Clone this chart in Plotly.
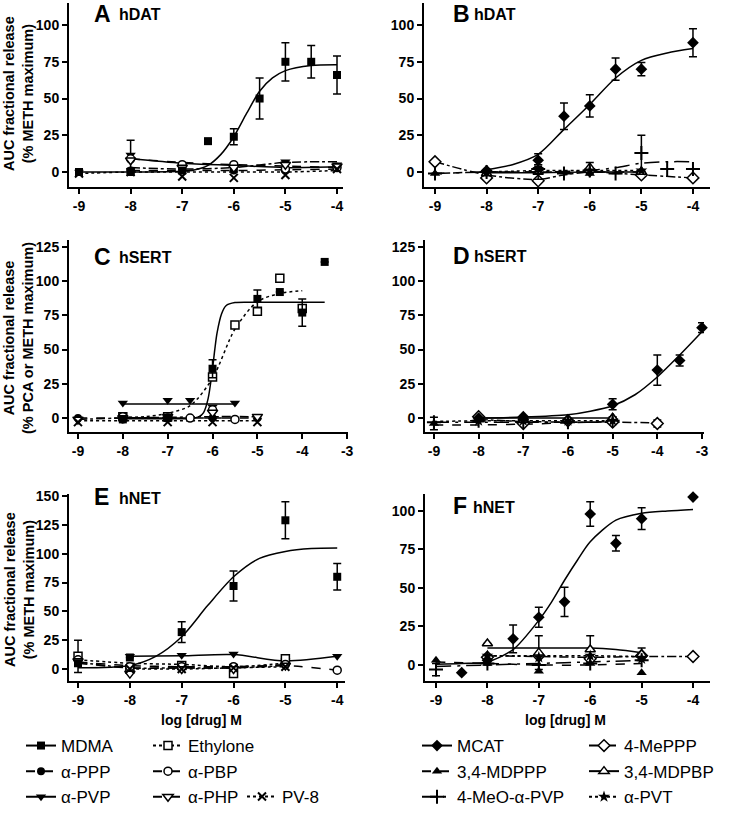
import plotly.graph_objects as go

# ---------------- tick labels ----------------
X_TICKS_6 = [-9, -8, -7, -6, -5, -4]
X_TICKS_7 = [-9, -8, -7, -6, -5, -4, -3]
Y_TICKS_AB = [0, 25, 50, 75, 100]
Y_TICKS_CD = [0, 25, 50, 75, 100, 125]
Y_TICKS_E = [0, 25, 50, 75, 100, 125, 150]
Y_TICKS_F = [0, 25, 50, 75, 100]

# ---------------- data: points (x, y, err) and curve (lx, ly) ----------------
PANEL_A = {
    "MDMA": dict(x=[-9, -8, -7, -6.5, -6, -5.5, -5, -4.5, -4], y=[0, 0, 1, 21, 24, 50, 75, 75, 66],
                 err=[0, 1, 1, 0, 5.5, 14, 13, 11, 13],
                 lx=[-9, -8, -7, -6.75, -6.5, -6.25, -6, -5.75, -5.5, -5.25, -5, -4.5, -4],
                 ly=[0, 0, 0.5, 1.5, 4.5, 12, 24, 40, 55, 64, 69, 72.5, 73]),
    "α-PPP": dict(x=[-8, -7, -6, -5, -4], y=[1, 2, 1, 1, 3], err=None,
                  lx=[-8, -7, -6, -5, -4], ly=[1, 1, 1, 1.5, 2]),
    "α-PVP": dict(x=[-8, -7, -6, -5, -4], y=[11.6, 3, 2, 7, 5], err=[10, 0, 0, 0, 0],
                  lx=[-8, -7, -6, -5, -4], ly=[9, 6, 4.5, 3, 3.5]),
    "α-PBP": dict(x=[-8, -7, -6, -5, -4], y=[9, 5, 5, 2, 3], err=None,
                  lx=[-8, -7, -6, -5, -4], ly=[9, 6.5, 5, 4, 3]),
    "α-PHP": dict(x=[-8, -7, -6, -5, -4], y=[8, 3, 3, 5, 4], err=None,
                  lx=[-8, -7, -6, -5, -4], ly=[3, 2, 3, 6.5, 7]),
    "PV-8": dict(x=[-9, -8, -7, -6, -5, -4], y=[-1, 0, -3, -4, -2, 2], err=None,
                 lx=[-9, -8, -7, -6, -5, -4], ly=[-1, 0, 0, 0, 0, 1]),
}
PANEL_B = {
    "MCAT": dict(x=[-8, -7, -6.5, -6, -5.5, -5, -4], y=[1, 8, 38, 45, 70, 70, 88],
                 err=[0, 4.5, 9, 7.5, 7.5, 4.5, 9.5],
                 lx=[-8, -7.5, -7, -6.5, -6, -5.5, -5, -4.5, -4], ly=[1.5, 5, 12, 29, 46, 64, 76, 81, 84]),
    "4-MePPP": dict(x=[-9, -8, -7, -6, -5, -4], y=[7, -4, -6, 1, -2, -4], err=None,
                    lx=[-9, -8, -7, -6.5, -6, -5, -4], ly=[7, -2, -5, -2, 0, -2, -4]),
    "3,4-MDPPP": dict(x=[-9, -8, -7, -6, -5], y=[-1, 0, 1, -1, 1], err=None,
                      lx=[-9, -8, -7, -6, -5], ly=[-1, 0, 0, 0, 0]),
    "3,4-MDPBP": dict(x=[-8, -7, -6, -5], y=[-1, 0, 3, 0], err=[0, 5, 3.5, 0],
                      lx=[-8, -7, -6, -5], ly=[-0.5, -0.5, 0, 0]),
    "4-MeO-α-PVP": dict(x=[-9, -8, -7, -6.5, -6, -5.5, -5, -4.5, -4], y=[-1, 0, 2, -1, 1, -1, 13, 2, 2],
                        err=[0, 0, 3, 0, 0, 0, 12, 0, 0],
                        lx=[-9, -8, -7, -6, -5.5, -5, -4.5, -4], ly=[-1, 0, 0, 1, 3, 6, 7, 7]),
    "α-PVT": dict(x=[-8, -7, -6, -5], y=[0, 2, 1, 1], err=None,
                  lx=[-8, -7, -6, -5], ly=[0, 1, 1, 1]),
}
PANEL_C = {
    "MDMA": dict(x=[-8, -7, -6, -5, -4.5, -4, -3.5], y=[-1, 0, 36, 87, 92, 77, 114],
                 err=[0, 0, 6.5, 6.5, 0, 10, 0],
                 lx=[-8, -7, -6.5, -6.3, -6.2, -6.1, -6.0, -5.95, -5.9, -5.8, -5.7, -5.5, -5, -4, -3.5],
                 ly=[-0.5, -0.5, -0.3, 1, 4, 14, 36, 50, 62, 76, 82, 84.3, 84.5, 84.5, 84.5]),
    "Ethylone": dict(x=[-8, -7, -6, -5.5, -5, -4.5, -4], y=[1, 1, 30, 68, 78, 102, 80],
                     err=[0, 0, 0, 2, 0, 0, 0],
                     lx=[-8, -7.5, -7, -6.5, -6, -5.5, -5, -4.5, -4], ly=[0.5, 1, 3.5, 9, 29, 65, 85, 91, 93]),
    "α-PVP": dict(x=[-8, -7, -6.5, -6, -5.5], y=[11, 13, 13, 8, 11], err=None,
                  lx=[-8, -5.5], ly=[10.3, 10.3]),
    "α-PPP": dict(x=[-9, -8, -7, -6, -5], y=[0, -1, 0, 0, 0], err=None,
                  lx=[-9, -8, -7, -6, -5], ly=[0, 0, 0, 0, 0]),
    "α-PBP": dict(x=[-8, -7, -6.5, -6, -5.5], y=[1, 0, 0, 6, -1], err=None,
                  lx=[-8, -7, -6.5, -6, -5.5], ly=[0.5, 0, 0, 0, 0]),
    "α-PHP": dict(x=[-9, -8, -7, -6, -5], y=[-1, 0, 1, 4, 1], err=None,
                  lx=[-9, -8, -7, -6, -5], ly=[-1, 0, 0.5, 1, 1]),
    "PV-8": dict(x=[-9, -7, -6, -5], y=[-3, -3, -3, -3], err=None,
                 lx=[-9, -7, -6, -5], ly=[-2, -2, -2, -2]),
}
PANEL_D = {
    "MCAT": dict(x=[-8, -7, -5, -4, -3.5, -3], y=[0, 1, 10, 35, 42, 66], err=[0, 0, 4, 11, 4, 3.5],
                 lx=[-8, -7, -6, -5.5, -5, -4.5, -4, -3.5, -3], ly=[0, 0.7, 2.4, 5, 9, 17, 30, 46, 63]),
    "4-MePPP": dict(x=[-8, -7, -6, -5, -4], y=[1, -4, -2, -3, -4], err=[0, 0, 0, 0, 2.5],
                    lx=[-8, -7, -6, -5, -4], ly=[-1, -2.5, -3, -3, -3.5]),
    "3,4-MDPPP": dict(x=[-9, -7, -6, -5], y=[-4, 1, -2, 1], err=[4.5, 0, 0, 0],
                      lx=[-9, -8, -7, -6, -5], ly=[-5, -5, -4.5, -3.5, -2.5]),
    "3,4-MDPBP": dict(x=[-8, -7, -6, -5], y=[-1, 0, -1, 0], err=None,
                      lx=[-8, -7, -6, -5], ly=[0, 0, 0, 0]),
    "4-MeO-α-PVP": dict(x=[-9, -8, -7, -6, -5], y=[-3, -2, -3, -3, -2], err=None,
                        lx=[-9, -8, -7, -6, -5], ly=[-3, -3, -3, -3, -3]),
    "α-PVT": dict(x=[-8, -7, -6, -5], y=[-2, -2, -2, -2], err=None,
                  lx=[-9, -8, -7, -6, -5], ly=[-2.5, -2, -2, -2, -2]),
}
PANEL_E = {
    "MDMA": dict(x=[-9, -8, -7, -6, -5, -4], y=[5, 10, 32, 72, 129, 80], err=[0, 0, 9, 13, 16, 11.5],
                 lx=[-9, -8, -7.5, -7, -6.5, -6, -5.5, -5, -4.5, -4], ly=[1, 3, 11, 28, 55, 80, 96, 102, 104.5, 105]),
    "α-PPP": dict(x=[-9, -8, -7, -6, -5], y=[6, -2, 1, 1, 5], err=None,
                  lx=[-9, -8, -7, -6, -5], ly=[5, 1, 1, 1, 4]),
    "α-PVP": dict(x=[-8, -7, -6, -5, -4], y=[11, 12, 13, 7, 11], err=None,
                  lx=[-8, -7, -6, -5, -4], ly=[11, 11.5, 12.5, 7, 11]),
    "Ethylone": dict(x=[-9, -8, -7, -6, -5], y=[11, 0, 3, -4, 9], err=[14, 0, 0, 0, 0],
                     lx=[-9, -8, -7, -6, -5], ly=[8, 5, 4, 2, 5]),
    "α-PBP": dict(x=[-9, -8, -7, -6, -5, -4], y=[8, 2, 2, 2, 4, -1], err=None,
                  lx=[-9, -8, -7, -6, -5, -4], ly=[6, 3, 2, 2, 3, -1]),
    "α-PHP": dict(x=[-9, -8, -7, -6, -5], y=[7, -4, 0, 0, 3], err=None,
                  lx=[-9, -8, -7, -6, -5], ly=[6, 1, 1, 1, 3]),
    "PV-8": dict(x=[-8, -7, -6, -5], y=[0, 0, 1, 2], err=None,
                 lx=[-8, -7, -6, -5], ly=[0, 0, 1, 2]),
}
PANEL_F = {
    "MCAT": dict(x=[-8.5, -8, -7.5, -7, -6.5, -6, -5.5, -5, -4], y=[-5, 3, 17, 31, 41, 98, 79, 95, 109],
                 err=[0, 3, 9, 6.5, 9.5, 8, 5, 7, 0],
                 lx=[-9, -8.5, -8, -7.5, -7, -6.75, -6.5, -6.25, -6, -5.5, -5, -4.5, -4],
                 ly=[0.5, 1, 2, 10, 29, 41, 55, 68, 80, 94, 98.5, 100, 101]),
    "4-MePPP": dict(x=[-8, -7, -6, -5, -4], y=[5, 6, 4, 6, 5.5], err=None,
                    lx=[-8, -7, -6, -5, -4], ly=[6, 5.5, 5, 5.5, 5.5]),
    "3,4-MDPPP": dict(x=[-9, -8, -7, -6, -5], y=[3, 1, -4, 1, -5], err=None,
                      lx=[-9, -8, -7, -6, -5], ly=[2, 1, 0, 0, 1]),
    "3,4-MDPBP": dict(x=[-8, -7, -6, -5], y=[14, 8, 10, 7], err=[0, 11, 9, 4],
                      lx=[-8, -7, -6, -5.5, -5], ly=[11, 11, 11, 10, 8]),
    "4-MeO-α-PVP": dict(x=[-9, -8, -7, -6, -5], y=[-3, 1, 0, 1, 3], err=[4, 0, 0, 0, 0],
                        lx=[-9, -8, -7, -6, -5], ly=[-1, 0, 1, 2, 3]),
    "α-PVT": dict(x=[-8, -7, -6, -5], y=[6, 5, 6, 4], err=None,
                  lx=[-8, -7, -6, -5], ly=[6, 6, 6, 5.5]),
}

# ---------------- styles ----------------
STYLE = {  # symbol, dash, open(True)/filled(False)/stroke(None)
    "MDMA": ("square", "solid", False),
    "α-PPP": ("circle", "dash", False),
    "α-PVP": ("triangle-down", "solid", False),
    "Ethylone": ("square", "dot", True),
    "α-PBP": ("circle", "dash", True),
    "α-PHP": ("triangle-down", "dashdot", True),
    "PV-8": ("x-thin", "dot", None),
    "MCAT": ("diamond", "solid", False),
    "4-MePPP": ("diamond", "dashdot", True),
    "3,4-MDPPP": ("triangle-up", "dash", False),
    "3,4-MDPBP": ("triangle-up", "solid", True),
    "4-MeO-α-PVP": ("cross-thin", "longdashdot", None),
    "α-PVT": ("star", "dot", False),
}
SIZES = {"square": 8, "circle": 8, "triangle-down": 9, "triangle-up": 9, "diamond": 9,
         "x-thin": 8, "cross-thin": 10, "star": 9}


def marker(name):
    sym, _, op = STYLE[name]
    s = SIZES[sym]
    if op is None:
        return dict(symbol=sym, size=s, color="black", line=dict(color="black", width=2))
    if op:
        return dict(symbol=sym, size=s, color="white", line=dict(color="black", width=1.5))
    return dict(symbol=sym, size=s, color="black", line=dict(color="black", width=0))


FONT = "Liberation Sans, Arial, sans-serif"
fig = go.Figure()

PANELS = [("x", "y", PANEL_A), ("x2", "y2", PANEL_B), ("x3", "y3", PANEL_C),
          ("x4", "y4", PANEL_D), ("x5", "y5", PANEL_E), ("x6", "y6", PANEL_F)]

for xa, ya, pdata in PANELS:
    for name, d in pdata.items():
        fig.add_trace(go.Scatter(x=d["lx"], y=d["ly"], mode="lines", xaxis=xa, yaxis=ya,
                                 line=dict(color="black", width=1.5, dash=STYLE[name][1],
                                           shape="spline", smoothing=0.8),
                                 showlegend=False, hoverinfo="skip"))
    order = sorted(pdata.keys(), key=lambda n: n in ("MDMA", "MCAT"))
    for name in order:
        d = pdata[name]
        ey = None
        if d["err"] is not None:
            ey = dict(type="data", array=d["err"], visible=True, color="black", thickness=1.5, width=4)
        fig.add_trace(go.Scatter(x=d["x"], y=d["y"], mode="markers", xaxis=xa, yaxis=ya,
                                 marker=marker(name), error_y=ey, showlegend=False, cliponaxis=False,
                                 name=name))

LEGEND_MAP = [("legend", ["MDMA", "α-PPP", "α-PVP"]),
              ("legend2", ["Ethylone", "α-PBP", "α-PHP"]),
              ("legend3", ["PV-8"]),
              ("legend4", ["MCAT", "3,4-MDPPP", "4-MeO-α-PVP"]),
              ("legend5", ["4-MePPP", "3,4-MDPBP", "α-PVT"])]
for lg, names in LEGEND_MAP:
    for name in names:
        fig.add_trace(go.Scatter(x=[None], y=[None], mode="lines+markers", name=name,
                                 legend=lg, legendgroup=name, showlegend=True,
                                 marker=marker(name),
                                 line=dict(color="black", width=2, dash=STYLE[name][1])))

W, H = 730, 813


def px(v):
    return v / W


def py(v):
    return 1 - v / H


axis_common = dict(showline=True, linewidth=2, linecolor="black", ticks="outside", tickwidth=2,
                   ticklen=5, tickcolor="black", showgrid=False, zeroline=False,
                   tickfont=dict(family=FONT, size=14, color="black", weight="bold"))

GEOM = {
    1: dict(xd=(69, 343), xr=(-9.194, -3.884), yd=(187, 3), yr=(-10.2, 115), xt=X_TICKS_6, yt=Y_TICKS_AB),
    2: dict(xd=(424, 710), xr=(-9.213, -3.67), yd=(187, 3), yr=(-10.2, 115), xt=X_TICKS_6, yt=Y_TICKS_AB),
    3: dict(xd=(69, 348), xr=(-9.2, -2.98), yd=(432, 240), yr=(-10.2, 130), xt=X_TICKS_7, yt=Y_TICKS_CD),
    4: dict(xd=(425, 704), xr=(-9.2, -2.955), yd=(432, 240), yr=(-10.2, 130), xt=X_TICKS_7, yt=Y_TICKS_CD),
    5: dict(xd=(69, 345), xr=(-9.174, -3.85), yd=(681, 494), yr=(-10.4, 151.8), xt=X_TICKS_6, yt=Y_TICKS_E),
    6: dict(xd=(425, 710), xr=(-9.214, -3.67), yd=(681, 494), yr=(-10.4, 111), xt=X_TICKS_6, yt=Y_TICKS_F),
}
layout_axes = {}
for i, g in GEOM.items():
    sx = "" if i == 1 else str(i)
    layout_axes["xaxis" + sx] = dict(axis_common, domain=[px(g["xd"][0]), px(g["xd"][1])], range=list(g["xr"]),
                                     tickvals=g["xt"], ticktext=[str(t) for t in g["xt"]],
                                     anchor="y" + sx)
    layout_axes["yaxis" + sx] = dict(axis_common, domain=[py(g["yd"][0]), py(g["yd"][1])], range=list(g["yr"]),
                                     tickvals=g["yt"], ticktext=[str(t) for t in g["yt"]],
                                     anchor="x" + sx)

ann = []
PANEL_LABELS = [("A", "hDAT", 92, 117, 14), ("B", "hDAT", 451, 472, 14),
                ("C", "hSERT", 92, 117, 257), ("D", "hSERT", 451, 472, 256),
                ("E", "hNET", 92, 117, 497), ("F", "hNET", 451, 471, 506)]
for letter, tgt, lx_, tx_, yy in PANEL_LABELS:
    ann.append(dict(x=px(lx_), y=py(yy), xref="paper", yref="paper", xanchor="left", yanchor="middle",
                    text="<b>%s</b>" % letter, showarrow=False,
                    font=dict(family=FONT, size=23, color="black")))
    ann.append(dict(x=px(tx_), y=py(yy + 1), xref="paper", yref="paper", xanchor="left", yanchor="middle",
                    text="<b>%s</b>" % tgt, showarrow=False,
                    font=dict(family=FONT, size=16, color="black")))

Y_TITLES = [("AUC fractional release<br>(% METH maximum)", 94),
            ("AUC fractional release<br>(% PCA or METH maximum)", 338),
            ("AUC fractional release<br>(% METH maximum)", 590)]
for txt, yc in Y_TITLES:
    ann.append(dict(x=px(19), y=py(yc), xref="paper", yref="paper", xanchor="center", yanchor="middle",
                    text="<b>%s</b>" % txt, textangle=-90, showarrow=False,
                    font=dict(family=FONT, size=14.5, color="black")))
for xc in (202, 565):
    ann.append(dict(x=px(xc), y=py(720), xref="paper", yref="paper", xanchor="center", yanchor="middle",
                    text="<b>log [drug] M</b>", showarrow=False,
                    font=dict(family=FONT, size=14, color="black")))

leg_common = dict(xanchor="left", yanchor="top", bgcolor="rgba(0,0,0,0)", borderwidth=0,
                  font=dict(family=FONT, size=17, color="black"), traceorder="grouped",
                  tracegroupgap=0.5, itemwidth=30, orientation="v")
LEG_POS = {"legend": (21, 728), "legend2": (148, 728), "legend3": (242, 779),
           "legend4": (417, 728), "legend5": (584, 728)}
legends = {k: dict(leg_common, x=px(v[0]), y=py(v[1])) for k, v in LEG_POS.items()}

fig.update_layout(width=W, height=H, margin=dict(l=0, r=0, t=0, b=0, autoexpand=False),
                  paper_bgcolor="white", plot_bgcolor="white",
                  font=dict(family=FONT, color="black"),
                  annotations=ann, showlegend=True, **layout_axes, **legends)

fig.write_html("out.html", config={"displayModeBar": False},
               post_script="document.body.style.margin='0';document.body.style.padding='0';")
